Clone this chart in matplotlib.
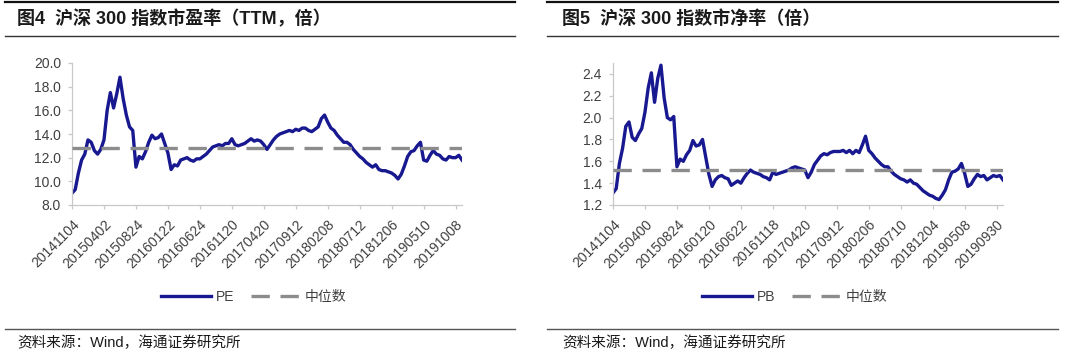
import matplotlib

matplotlib.use("Agg")
import matplotlib.pyplot as plt
from matplotlib.lines import Line2D
import numpy as np

plt.rcParams["font.family"] = ["Liberation Sans", "Noto Sans CJK SC", "DejaVu Sans"]

W, H = 1080, 357

# x tick labels (one every 10 samples)
pe_ticks = ["20141104", "20150402", "20150824", "20160122", "20160624", "20161120",
            "20170420", "20170912", "20180208", "20180712", "20181206", "20190510",
            "20191008"]
pb_ticks = ["20141104", "20150400", "20150824", "20160120", "20160622", "20161118",
            "20170420", "20170912", "20180206", "20180710", "20181204", "20190508",
            "20190930"]

# values, 10 samples per tick interval
pe_values = [
    9.0, 9.3, 10.7, 11.8, 12.3, 13.5, 13.3, 12.6, 12.3, 12.7,
    13.5, 16.0, 17.5, 16.2, 17.4, 18.8, 17.0, 15.6, 14.6, 14.3,
    11.2, 12.1, 11.9, 12.5, 13.3, 13.9, 13.6, 13.7, 14.0, 13.2,
    12.4, 11.0, 11.4, 11.3, 11.8, 11.9, 12.0, 11.8, 11.7, 11.9,
    11.9, 12.1, 12.3, 12.6, 12.9, 13.0, 13.1, 13.0, 13.2, 13.2,
    13.6, 13.1, 13.0, 13.1, 13.2, 13.4, 13.6, 13.4, 13.5, 13.4,
    13.1, 12.7, 13.1, 13.5, 13.8, 14.0, 14.1, 14.2, 14.3, 14.2,
    14.4, 14.3, 14.5, 14.5, 14.3, 14.2, 14.4, 14.6, 15.3, 15.6,
    15.0, 14.5, 14.3, 13.9, 13.6, 13.3, 13.3, 13.1, 12.7, 12.4,
    12.1, 11.9, 11.6, 11.4, 11.2, 11.4, 11.0, 10.9, 10.9, 10.8,
    10.7, 10.5, 10.2, 10.6, 11.3, 12.1, 12.5, 12.6, 13.0, 13.3,
    11.8, 11.7, 12.2, 12.6, 12.3, 12.2, 11.9, 11.8, 12.1, 12.0,
    12.0, 12.2, 11.8,
]
pb_values = [
    1.31, 1.35, 1.58, 1.72, 1.92, 1.96, 1.82, 1.79, 1.85, 1.90,
    2.05, 2.27, 2.41, 2.14, 2.36, 2.48, 2.18, 2.00, 1.98, 2.01,
    1.55, 1.62, 1.60, 1.66, 1.70, 1.79, 1.74, 1.75, 1.80, 1.64,
    1.48, 1.37, 1.43, 1.46, 1.47, 1.45, 1.44, 1.38, 1.40, 1.42,
    1.40, 1.45, 1.49, 1.52, 1.50, 1.49, 1.48, 1.46, 1.45, 1.43,
    1.50, 1.48, 1.49, 1.50, 1.51, 1.52, 1.54, 1.55, 1.54, 1.53,
    1.52, 1.45, 1.50, 1.57, 1.61, 1.65, 1.67, 1.66, 1.68, 1.69,
    1.69, 1.69, 1.70, 1.68, 1.70, 1.67, 1.70, 1.68, 1.75, 1.83,
    1.70, 1.67, 1.63, 1.60, 1.57, 1.55, 1.55, 1.51, 1.48, 1.46,
    1.44, 1.43, 1.41, 1.43, 1.40, 1.39, 1.36, 1.33, 1.31, 1.29,
    1.28, 1.26, 1.25, 1.29, 1.34, 1.43, 1.50, 1.51, 1.53, 1.58,
    1.49, 1.37, 1.39, 1.44, 1.48, 1.46, 1.47, 1.43, 1.45, 1.47,
    1.46, 1.47, 1.43,
]
pe_median = 12.85
pb_median = 1.52

pe_yticks = [8.0, 10.0, 12.0, 14.0, 16.0, 18.0, 20.0]
pb_yticks = [1.2, 1.4, 1.6, 1.8, 2.0, 2.2, 2.4]

LINE_BLUE = "#181890"
MED_GRAY = "#8c8c8c"
TXT = "#404040"


def fx(x):
    return x / W


def fy(y):
    return 1 - y / H


def draw_panel(fig, left_px, title, series, ticks, name, median, yticks, ylim, fmt, src_x):
    ax = fig.add_axes([fx(left_px), fy(205), 390 / W, 142 / H])
    xs = np.arange(len(series))
    ax.plot(xs, series, color=LINE_BLUE, lw=2.4, label=name, zorder=2)
    ax.axhline(median, color=MED_GRAY, lw=2.4, dashes=(5.5, 3.2), label="中位数", zorder=3)
    ax.set_xlim(0, len(series) - 1)
    ax.set_ylim(*ylim)
    ax.set_yticks(yticks)
    ax.set_yticklabels([fmt.format(v) for v in yticks])
    ax.set_xticks(np.arange(len(ticks)) * 10)
    ax.set_xticklabels(ticks, rotation=45, ha="right", va="top", rotation_mode="anchor")
    for s in ("top", "right"):
        ax.spines[s].set_visible(False)
    for s in ("left", "bottom"):
        ax.spines[s].set_color("#c8c8c8")
        ax.spines[s].set_linewidth(0.9)
    ax.tick_params(axis="both", colors="#c8c8c8", labelcolor=TXT, labelsize=10, length=3, width=0.9)
    ax.tick_params(axis="y", pad=5)
    ax.tick_params(axis="x", pad=6)

    leg = fig.legend(*ax.get_legend_handles_labels(), loc="center",
                     bbox_to_anchor=(fx(left_px + 182), fy(297)), ncol=2, frameon=False,
                     fontsize=10, handlelength=3.6, columnspacing=1.2, handletextpad=0.3)
    for t in leg.get_texts():
        t.set_color(TXT)

    fig.text(fx(src_x), fy(19), title, fontsize=13, fontweight="bold", va="center", color="#1a1a1a")
    fig.text(fx(src_x), fy(343), "资料来源：Wind，海通证券研究所", fontsize=10.5, va="center", color="#1a1a1a")
    return ax


fig = plt.figure(figsize=(W / 100, H / 100), dpi=100)

# rules above/below the titles and above the source line
for x0, x1 in ((5, 515), (547, 1058)):
    fig.add_artist(Line2D([fx(x0), fx(x1)], [fy(2), fy(2)], color="#111111", lw=1.6))
    fig.add_artist(Line2D([fx(x0), fx(x1)], [fy(36), fy(36)], color="#333333", lw=1.0))
    fig.add_artist(Line2D([fx(x0), fx(x1)], [fy(329), fy(329)], color="#555555", lw=1.0))

draw_panel(fig, 72, "图4  沪深 300 指数市盈率（TTM，倍）", pe_values, pe_ticks, "PE",
           pe_median, pe_yticks, (8.0, 20.0), "{:.1f}", 17)
draw_panel(fig, 613, "图5  沪深 300 指数市净率（倍）", pb_values, pb_ticks, "PB",
           pb_median, pb_yticks, (1.2, 2.5), "{:.1f}", 562)

fig.savefig("out.png", dpi=100)
plt.close(fig)
